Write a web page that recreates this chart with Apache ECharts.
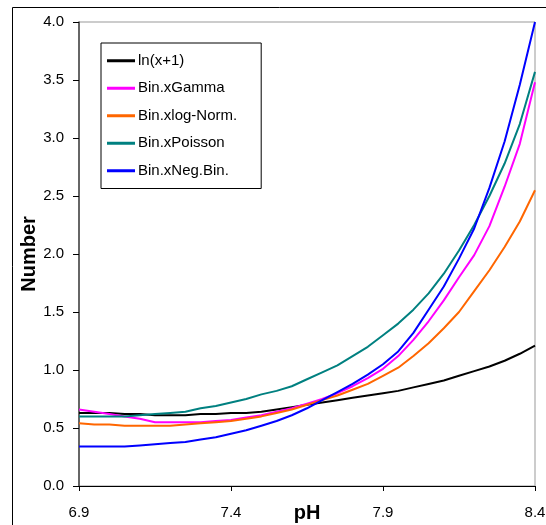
<!DOCTYPE html>
<html><head><meta charset="utf-8">
<script src="https://cdn.jsdelivr.net/npm/echarts@6/dist/echarts.min.js"></script>
<style>html,body{margin:0;padding:0;background:#fff}#c{width:546px;height:525px}</style>
</head><body><div id="c"></div>
<script>
const pH = [6.9,6.95,7.0,7.05,7.1,7.15,7.2,7.25,7.3,7.35,7.4,7.45,7.5,7.55,7.6,7.65,7.7,7.75,7.8,7.85,7.9,7.95,8.0,8.05,8.1,8.15,8.2,8.25,8.3,8.35,8.4];
const lnX1 = [0.63,0.63,0.63,0.62,0.62,0.61,0.61,0.61,0.62,0.62,0.63,0.63,0.64,0.66,0.68,0.70,0.72,0.74,0.76,0.78,0.80,0.82,0.85,0.88,0.91,0.95,0.99,1.03,1.08,1.14,1.21];
const binGamma = [0.66,0.64,0.62,0.60,0.58,0.55,0.55,0.55,0.55,0.56,0.57,0.59,0.61,0.64,0.67,0.71,0.75,0.80,0.86,0.93,1.01,1.12,1.26,1.42,1.60,1.80,1.99,2.24,2.58,2.95,3.48];
const binLogNorm = [0.54,0.53,0.53,0.52,0.52,0.52,0.52,0.53,0.54,0.55,0.56,0.58,0.60,0.63,0.66,0.70,0.74,0.78,0.83,0.88,0.95,1.02,1.12,1.23,1.36,1.50,1.68,1.86,2.06,2.28,2.55];
const binPoisson = [0.60,0.60,0.60,0.60,0.61,0.62,0.63,0.64,0.67,0.69,0.72,0.75,0.79,0.82,0.86,0.92,0.98,1.04,1.12,1.20,1.30,1.40,1.52,1.66,1.83,2.03,2.25,2.50,2.78,3.12,3.57];
const binNegBin = [0.34,0.34,0.34,0.34,0.35,0.36,0.37,0.38,0.40,0.42,0.45,0.48,0.52,0.56,0.61,0.67,0.74,0.81,0.88,0.96,1.05,1.16,1.32,1.52,1.72,1.96,2.22,2.57,2.97,3.46,4.0];
const seriesNames = ['ln(x+1)','Bin.xGamma','Bin.xlog-Norm.','Bin.xPoisson','Bin.xNeg.Bin.'];
const seriesData = [lnX1, binGamma, binLogNorm, binPoisson, binNegBin];
const colors = ['#000000','#ff00ff','#ff6600','#008080','#0000ff'];
const xTicks = [6.9,7.4,7.9,8.4];

const chart = echarts.init(document.getElementById('c'));
const font = 'Arial, "Liberation Sans", sans-serif';
chart.setOption({
  animation:false,
  grid:{left:79,top:22,right:11,bottom:39,show:true,borderColor:'#999',borderWidth:1,containLabel:false,outerBoundsMode:'none'},
  graphic:[{type:'rect',shape:{x:12.5,y:7.5,width:700,height:700},style:{fill:null,stroke:'#000',lineWidth:1},silent:true,z:-1}],
  legend:{
    orient:'vertical',left:101,top:43,padding:[9,24,9,6],itemGap:10,itemWidth:28,itemHeight:3,
    icon:'rect',
    borderColor:'#000',borderWidth:1,backgroundColor:'#fff',
    textStyle:{fontFamily:font,fontSize:15,color:'#000',lineHeight:17.5,padding:[0,0,0,-2]},
    data:seriesNames
  },
  xAxis:{
    type:'value',min:6.9,max:8.4,interval:0.5,
    name:'pH',nameLocation:'middle',nameGap:17,nameMoveOverlap:false,
    nameTextStyle:{fontFamily:font,fontSize:20,fontWeight:'bold',color:'#000'},
    axisLine:{lineStyle:{color:'#000',width:1}},
    axisTick:{show:true,inside:false,length:5,lineStyle:{color:'#000'},customValues:xTicks},
    axisLabel:{fontFamily:font,fontSize:15,color:'#000',margin:19,customValues:xTicks,formatter:v=>v.toFixed(1)},
    splitLine:{show:false}
  },
  yAxis:{
    type:'value',min:0,max:4,interval:0.5,
    name:'Number',nameLocation:'middle',nameGap:40,nameMoveOverlap:false,
    nameTextStyle:{fontFamily:font,fontSize:20,fontWeight:'bold',color:'#000'},
    axisLine:{show:true,lineStyle:{color:'#444',width:1.5}},
    axisTick:{show:true,inside:false,length:6,lineStyle:{color:'#000'}},
    axisLabel:{fontFamily:font,fontSize:15,color:'#000',margin:15,formatter:v=>v.toFixed(1)},
    splitLine:{show:false}
  },
  series: seriesNames.map((n,i)=>({
    name:n,type:'line',symbol:'none',
    data: pH.map((x,j)=>[x,seriesData[i][j]]),
    lineStyle:{color:colors[i],width:2},itemStyle:{color:colors[i]},
    clip:true
  }))
});
</script></body></html>
